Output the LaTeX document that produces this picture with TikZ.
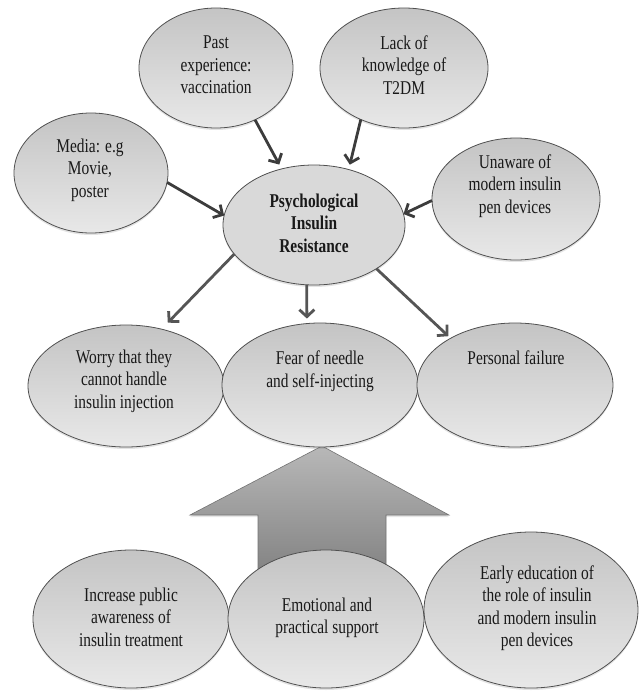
\documentclass[tikz,border=0pt]{standalone}
\usepackage{fontspec}
\setmainfont{Liberation Serif}[FakeStretch=0.79]
\usetikzlibrary{shapes.geometric,arrows.meta,shadows}
\definecolor{edgec}{HTML}{505050}
\definecolor{ellTop}{HTML}{C4C4C4}
\definecolor{ellBot}{HTML}{E8E8E8}
\definecolor{psyfill}{HTML}{D9D9D9}
\definecolor{arrc}{HTML}{3C3C3C}
\definecolor{arrd}{HTML}{555555}
\definecolor{bigTop}{HTML}{B8B8B8}
\definecolor{bigBot}{HTML}{7E7E7E}
\begin{document}
\begin{tikzpicture}[x=1pt,y=-1pt,
  ell/.style={ellipse, draw=edgec, line width=0.8pt, inner sep=0pt, outer sep=0pt,
    top color=ellTop, bottom color=ellBot,
    drop shadow={shadow xshift=0pt,shadow yshift=-2pt,opacity=0.22}},
  txt/.style={align=center, font=\fontsize{19.5}{22.5}\selectfont, inner sep=0pt, text=black!90},
  arr/.style={draw=arrc, line width=2.8pt, -{Straight Barb[length=7pt,width=15pt]}},
  arrlow/.style={arr, draw=arrd},
]
\useasboundingbox (0,0) rectangle (638,691);

% big arrow (behind the ellipses)
\path[draw=black!55, line width=0.6pt, top color=bigTop, bottom color=bigBot,
  drop shadow={shadow xshift=0pt,shadow yshift=-2pt,opacity=0.2}]
  (322,446) -- (449,515) -- (386,515) -- (386,585) -- (258,585) -- (258,515) -- (190,515) -- cycle;

% ellipses
\node[ell, minimum width=154pt, minimum height=120pt] (media) at (91,173) {};
\node[ell, minimum width=154pt, minimum height=120pt] (past) at (216,68) {};
\node[ell, minimum width=168pt, minimum height=120pt] (lack) at (404,68) {};
\node[ell, minimum width=168pt, minimum height=122pt] (unaware) at (516,199) {};
\node[ell, minimum width=182pt, minimum height=120pt, top color=psyfill, bottom color=psyfill] (psy) at (314,225) {};
\node[ell, minimum width=196pt, minimum height=122pt] (worry) at (126,386) {};
\node[ell, minimum width=196pt, minimum height=124pt] (fear) at (320,385) {};
\node[ell, minimum width=196pt, minimum height=124pt] (personal) at (515,385) {};
\node[ell, minimum width=196pt, minimum height=138pt] (increase) at (131,619) {};
\node[ell, minimum width=196pt, minimum height=138pt] (emot) at (326,619) {};
\node[ell, minimum width=214pt, minimum height=156pt] (early) at (531,610) {};

% texts
\node[txt] (pastT) at (216,65) {Past\\experience:\\vaccination};
\node[txt] (lackT) at (404,65) {Lack of\\knowledge of\\T2DM};
\node[txt] (mediaT) at (90,170) {Media: e.g\\Movie,\\poster};
\node[txt] (unawareT) at (515,186) {Unaware of\\modern insulin\\pen devices};
\node[txt, font=\fontsize{19.5}{22.5}\selectfont\bfseries] (psyT) at (314,223) {Psychological\\Insulin\\Resistance};
\node[txt] (worryT) at (124,381) {Worry that they\\cannot handle\\insulin injection};
\node[txt] (fearT) at (320,371) {Fear of needle\\and self-injecting};
\node[txt] (personalT) at (516,358) {Personal failure};
\node[txt] (increaseT) at (131,617) {Increase public\\awareness of\\insulin treatment};
\node[txt] (emotT) at (327,618) {Emotional and\\practical support};
\node[txt] (earlyT) at (537,608) {Early education of\\the role of insulin\\and modern insulin\\pen devices};

% connectors
\draw[arr, shorten >=5pt] (past.-53) -- (psy.120);
\draw[arr, shorten >=5pt] (lack.-130) -- (psy.58);
\draw[arr] (media.-7) -- (psy.174);
\draw[arr] (unaware.181) -- (psy.7);
\draw[arrlow, shorten >=9pt] (psy.200) -- (worry.58);
\draw[arrlow, shorten >=5pt] (psy.263) -- (fear.102);
\draw[arrlow, shorten >=3pt] (psy.-35) -- (personal.144);
\end{tikzpicture}
\end{document}
